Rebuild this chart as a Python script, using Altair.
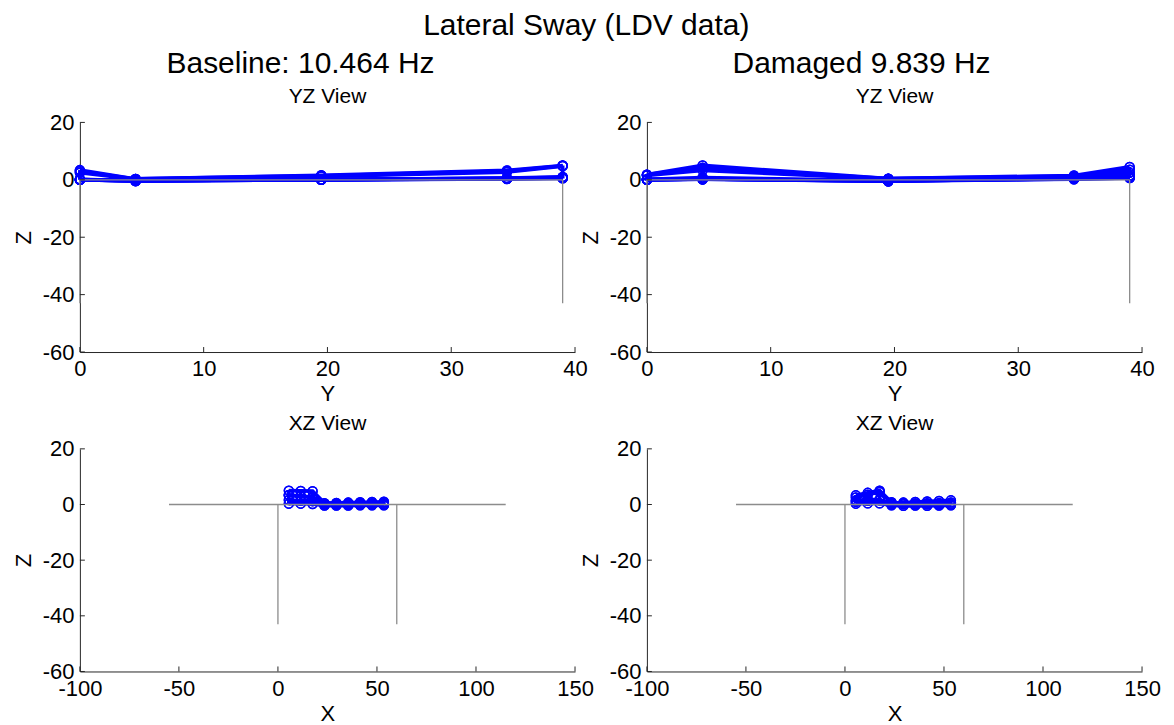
import altair as alt
import pandas as pd

FONT = "Liberation Sans, Arial, Helvetica, sans-serif"
BLUE = "#0000ff"
GRAY = "#8c8c8c"
AXC = "#262626"

# ---- data -------------------------------------------------------------
main_title = "Lateral Sway (LDV data)"
headers = ["Baseline: 10.464 Hz", "Damaged 9.839 Hz"]
view_titles = ["YZ View", "XZ View"]

y_nodes = [0.0, 4.5, 19.5, 34.5, 39.0]
x_nodes = [5.5, 11.5, 17.5, 23.5, 29.5, 35.5, 41.5, 47.5, 53.5]

# z displacement, rows = x_nodes, columns = y_nodes
baseline_z = [
    [3.4, 0.3, 1.6, 3.3, 5.0],
    [3.0, 0.3, 1.4, 3.0, 4.9],
    [2.5, 0.2, 1.2, 2.7, 4.8],
    [0.2, -0.4, 0.0, 0.3, 0.5],
    [0.1, -0.4, 0.0, 0.4, 0.6],
    [0.1, -0.4, 0.1, 0.4, 0.7],
    [0.0, -0.3, 0.1, 0.5, 0.8],
    [0.0, -0.3, 0.1, 0.5, 0.9],
    [0.0, -0.3, 0.1, 0.6, 1.0],
]
damaged_z = [
    [1.5, 3.3, 0.3, 1.0, 2.5],
    [1.8, 4.2, 0.4, 1.3, 3.5],
    [1.8, 5.0, 0.4, 1.5, 4.5],
    [0.2, 0.8, -0.3, 0.2, 0.6],
    [0.1, 0.3, -0.5, 0.3, 0.7],
    [0.1, 0.2, -0.4, 0.4, 0.9],
    [0.1, 0.3, -0.5, 0.5, 1.1],
    [0.0, 0.3, -0.4, 0.6, 1.3],
    [0.0, 0.2, -0.3, 0.7, 1.5],
]

# undeformed geometry (segment id, horizontal coordinate, z)
yz_frame_seg = [0, 0, 1, 1, 2, 2]
yz_frame_h = [0, 39, 39, 39, 0, 0]
yz_frame_z = [0, 0, 0, -43, 0, -43]
xz_frame_seg = [0, 0, 1, 1, 2, 2]
xz_frame_h = [-55, 115, 0, 0, 60, 60]
xz_frame_z = [0, 0, 0, -43, 0, -43]

y_ticks = [0, 10, 20, 30, 40]
x_ticks = [-100, -50, 0, 50, 100, 150]
z_ticks = [-60, -40, -20, 0, 20]

W = 496
H_TOP, H_BOT = 230, 223


def wire(zgrid, view):
    rows = []
    for i, xv in enumerate(x_nodes):
        for j, yv in enumerate(y_nodes):
            h = yv if view == "yz" else xv
            rows.append({"line": f"r{i}", "o": j, "h": h, "z": zgrid[i][j]})
            rows.append({"line": f"c{j}", "o": i, "h": h, "z": zgrid[i][j]})
    return pd.DataFrame(rows)


def panel(zgrid, view, H, header=None):
    if view == "yz":
        dom, ticks, xt, ttl = [0, 40], y_ticks, "Y", view_titles[0]
        fr = pd.DataFrame({"seg": yz_frame_seg, "h": yz_frame_h, "z": yz_frame_z})
    else:
        dom, ticks, xt, ttl = [-100, 150], x_ticks, "X", view_titles[1]
        fr = pd.DataFrame({"seg": xz_frame_seg, "h": xz_frame_h, "z": xz_frame_z})
    df = wire(zgrid, view)
    xs = alt.Scale(domain=dom, nice=False, zero=False)
    ys = alt.Scale(domain=[-60, 20], nice=False, zero=False)
    common = dict(ticks=False, tickSize=0, grid=False, domainColor=AXC,
                  domainWidth=1, labelFont=FONT, labelFontSize=22,
                  labelColor="black", titleFont=FONT, titleFontSize=22,
                  titleFontWeight="normal", titleColor="black",
                  labelExpr="datum.value + ''")
    xax = alt.Axis(values=ticks, title=xt, labelPadding=7, titlePadding=4,
                   labelAngle=0, labelFlush=False, **common)
    yax = alt.Axis(values=z_ticks, title="Z", labelPadding=6, titlePadding=7,
                   labelFlush=False, **common)
    lines = alt.Chart(df).mark_line(color=BLUE, strokeWidth=3.7).encode(
        x=alt.X("h:Q", scale=xs, axis=xax),
        y=alt.Y("z:Q", scale=ys, axis=yax),
        detail="line:N", order="o:Q")
    pts = alt.Chart(df).mark_point(shape="circle", filled=False, color=BLUE,
                                   size=80, strokeWidth=1.5, opacity=1).encode(
        x=alt.X("h:Q", scale=xs), y=alt.Y("z:Q", scale=ys))
    frame = alt.Chart(fr).mark_line(color=GRAY, strokeWidth=1.3).encode(
        x=alt.X("h:Q", scale=xs), y=alt.Y("z:Q", scale=ys),
        detail="seg:N")
    xt_r = alt.Chart(pd.DataFrame({"t": ticks})).mark_rule(
        color=AXC, strokeWidth=1).encode(
        x=alt.X("t:Q", scale=xs), y=alt.value(H), y2=alt.value(H - 5))
    yt_r = alt.Chart(pd.DataFrame({"t": z_ticks})).mark_rule(
        color=AXC, strokeWidth=1).encode(
        y=alt.Y("t:Q", scale=ys), x=alt.value(0), x2=alt.value(5))
    vt = alt.Chart(pd.DataFrame({"t": [ttl]})).mark_text(
        font=FONT, fontSize=21, color="black", align="center",
        baseline="middle").encode(
        text="t:N", x=alt.value(W / 2), y=alt.value(-25))
    layers = [lines, pts, frame, xt_r, yt_r, vt]
    if header is not None:
        txt, dxp = header
        hd = alt.Chart(pd.DataFrame({"t": [txt]})).mark_text(
            font=FONT, fontSize=30, color="black", align="center",
            baseline="middle").encode(
            text="t:N", x=alt.value(dxp), y=alt.value(-59))
        layers.append(hd)
    return alt.layer(*layers).properties(width=W, height=H)


tl = panel(baseline_z, "yz", H_TOP, (headers[0], 221))
tr = panel(damaged_z, "yz", H_TOP, (headers[1], 215))
bl = panel(baseline_z, "xz", H_BOT)
br = panel(damaged_z, "xz", H_BOT)

chart = alt.concat(
    tl, tr, bl, br, columns=2, spacing={"row": 97, "column": 72},
    bounds="flush",
    title=alt.TitleParams(main_title, font=FONT, fontSize=30,
                          fontWeight="normal", color="black",
                          anchor="middle", frame="bounds", offset=8),
).properties(
    padding={"left": 4, "top": 2, "right": 5, "bottom": 0}
).configure_view(stroke=None)

chart.save("out.html", embed_options={"renderer": "svg", "actions": False})
